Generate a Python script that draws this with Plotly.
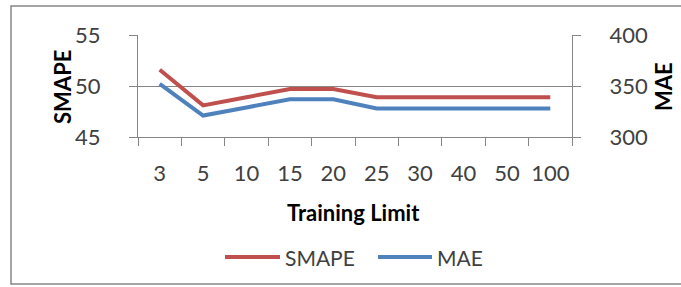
import plotly.graph_objects as go

categories = ["3", "5", "10", "15", "20", "25", "30", "40", "50", "100"]
smape = [51.6, 48.1, 48.9, 49.7, 49.7, 48.9, 48.9, 48.9, 48.9, 48.9]
mae = [352, 321, 329, 337, 337, 328, 328, 328, 328, 328]

W, H = 681, 287
L, R, T, B = 138, 572, 35, 137

def px(x):
    return (x - L) / (R - L)

def py(y):
    return (B - y) / (B - T)

red = "#C0504D"
blue = "#4F81BD"
font = "Lato"
tick_color = "#404040"
axis_color = "#868686"

fig = go.Figure()
fig.add_trace(go.Scatter(x=categories, y=smape, mode="lines", name="SMAPE",
                         line=dict(color=red, width=4), yaxis="y"))
fig.add_trace(go.Scatter(x=categories, y=mae, mode="lines", name="MAE",
                         line=dict(color=blue, width=4), yaxis="y2"))

fig.update_layout(
    width=W, height=H,
    margin=dict(l=L, r=W - R, t=T, b=H - B, pad=0),
    paper_bgcolor="white", plot_bgcolor="white",
    showlegend=False,
    font=dict(family=font, size=22, color=tick_color),
    xaxis=dict(type="category", tickson="boundaries", ticks="outside", ticklen=8,
               tickcolor=axis_color, showline=True, linecolor=axis_color, linewidth=1,
               showgrid=False, tickfont=dict(size=22, color=tick_color), tickangle=0,
               automargin=False, ticklabelstandoff=17,
               range=[-0.5, 9.5], fixedrange=True),
    yaxis=dict(range=[45, 55], dtick=5, ticks="outside", ticklen=8, tickcolor=axis_color,
               showline=True, linecolor=axis_color, showgrid=True, gridcolor=axis_color,
               gridwidth=1, zeroline=False, automargin=False, ticklabelstandoff=24,
               tickfont=dict(size=22, color=tick_color), fixedrange=True),
    yaxis2=dict(range=[300, 400], dtick=50, overlaying="y", side="right", ticks="outside",
                ticklen=8, tickcolor=axis_color, showline=True, linecolor=axis_color,
                showgrid=False, zeroline=False, automargin=False, ticklabelstandoff=24,
                tickfont=dict(size=22, color=tick_color), fixedrange=True),
)

annotations = [
    dict(text="<b>SMAPE</b>", x=px(62), y=py(87), textangle=-90, font=dict(size=22, color="#000000")),
    dict(text="<b>MAE</b>", x=px(663), y=py(87), textangle=-90, font=dict(size=22, color="#000000")),
    dict(text="<b>Training Limit</b>", x=px(353), y=py(212), font=dict(size=22, color="#000000")),
    dict(text="SMAPE", x=px(283), y=py(257), xanchor="left", font=dict(size=21, color=tick_color)),
    dict(text="MAE", x=px(435), y=py(257), xanchor="left", font=dict(size=21, color=tick_color)),
]
for a in annotations:
    a.update(xref="paper", yref="paper", showarrow=False)
    a.setdefault("xanchor", "center")
    a["yanchor"] = "middle"
fig.update_layout(annotations=annotations)

shapes = [
    dict(type="rect", x0=px(11), x1=px(690), y0=py(284), y1=py(6),
         line=dict(color=axis_color, width=1.5), fillcolor="rgba(0,0,0,0)", layer="below"),
    dict(type="line", x0=px(225), x1=px(280), y0=py(257), y1=py(257), line=dict(color=red, width=4)),
    dict(type="line", x0=px(378), x1=px(432), y0=py(257), y1=py(257), line=dict(color=blue, width=4)),
]
for s in shapes:
    s.update(xref="paper", yref="paper")
fig.update_layout(shapes=shapes)

fig.write_html("out.html", config={"displayModeBar": False},
               post_script="document.body.style.margin='0';")
